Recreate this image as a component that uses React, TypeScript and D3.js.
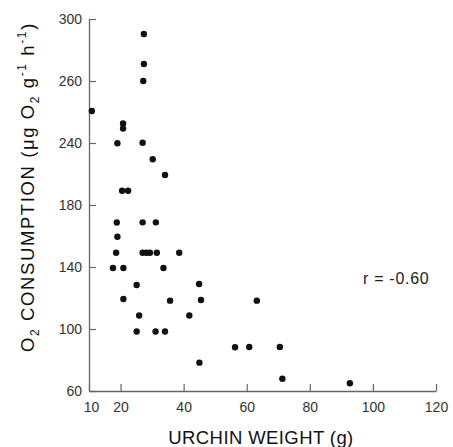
import React, { useEffect, useRef } from "react";
import * as d3 from "d3";

// urchin weight (g)
const weight = [
  27.4, 27.4, 27.2, 10.9, 20.8, 20.8, 19.0, 27.0, 30.2, 34.1, 20.5, 22.4, 18.8,
  27.0, 31.2, 19.0, 18.6, 27.0, 28.2, 29.3, 31.5, 38.6, 17.6, 20.9, 33.6, 25.1,
  44.9, 20.9, 35.7, 45.5, 63.2, 25.9, 41.8, 25.1, 31.1, 34.1, 56.3, 60.8, 70.5,
  45.0, 71.3, 92.7,
];
// O2 consumption (ug O2 g-1 h-1)
const consumption = [
  290.3, 271.0, 260.0, 240.6, 232.6, 229.4, 219.8, 220.2, 209.5, 199.4, 189.2,
  189.2, 168.7, 168.8, 168.8, 159.5, 149.2, 149.2, 149.2, 149.2, 149.2, 149.2,
  139.4, 139.4, 139.4, 128.4, 129.0, 119.4, 118.3, 118.7, 118.3, 108.7, 108.7,
  98.4, 98.4, 98.4, 88.2, 88.4, 88.4, 78.3, 67.9, 65.0,
];
const xTicks = [10, 20, 40, 60, 80, 100, 120];
const yTicks = [300, 260, 220, 180, 140, 100, 60];
// labels as printed in the figure
const yTickLabels = ["300", "260", "240", "180", "140", "100", "60"];
const rLabel = "r = -0.60";

const App = () => {
  const ref = useRef<SVGSVGElement>(null);

  useEffect(() => {
    const svg = d3.select(ref.current);
    svg.selectAll("*").remove();

    const left = 89,
      right = 436,
      top = 19,
      bottom = 391;

    const x = d3.scaleLinear().domain([10, 120]).range([left, right]);
    const y = d3.scaleLinear().domain([60, 300]).range([bottom, top]);

    const font = "'Liberation Sans', Arial, sans-serif";
    const axisColor = "#666";

    // Y axis
    const yAxis = svg
      .append("g")
      .attr("transform", `translate(${left},0)`)
      .call(
        d3
          .axisLeft(y)
          .tickValues(yTicks)
          .tickFormat((d, i) => yTickLabels[i])
          .tickSizeInner(-7)
          .tickSizeOuter(0)
          .tickPadding(7)
      );
    yAxis.select(".domain").attr("stroke", axisColor).attr("stroke-width", 1.3);
    yAxis.selectAll(".tick line").attr("stroke", axisColor).attr("stroke-width", 1.2);
    yAxis
      .selectAll(".tick text")
      .attr("font-family", font)
      .attr("font-size", 14)
      .attr("fill", "#333")
      .attr("x", -7);

    // X axis
    const xAxis = svg
      .append("g")
      .attr("transform", `translate(0,${bottom})`)
      .call(
        d3
          .axisBottom(x)
          .tickValues(xTicks)
          .tickFormat((d) => String(d))
          .tickSizeInner(-7)
          .tickSizeOuter(0)
          .tickPadding(0)
      );
    xAxis.select(".domain").attr("stroke", axisColor).attr("stroke-width", 1.3);
    xAxis.selectAll(".tick line").attr("stroke", axisColor).attr("stroke-width", 1.2);
    xAxis
      .selectAll(".tick text")
      .attr("font-family", font)
      .attr("font-size", 14)
      .attr("fill", "#333")
      .attr("y", 11)
      .attr("x", (d) => (d === 10 ? 2 : 0));

    // points
    svg
      .append("g")
      .selectAll("circle")
      .data(weight)
      .join("circle")
      .attr("cx", (d) => x(d))
      .attr("cy", (d, i) => y(consumption[i]))
      .attr("r", 3.2)
      .attr("fill", "#111");

    // correlation label
    svg
      .append("text")
      .attr("x", 363)
      .attr("y", 284)
      .attr("font-family", font)
      .attr("font-size", 16)
      .attr("letter-spacing", 0.7)
      .attr("fill", "#222")
      .text(rLabel);

    // x title
    svg
      .append("text")
      .attr("x", 261)
      .attr("y", 444)
      .attr("text-anchor", "middle")
      .attr("font-family", font)
      .attr("font-size", 18.5)
      .attr("letter-spacing", 0.4)
      .attr("fill", "#111")
      .text("URCHIN WEIGHT (g)");

    // y title
    const yt = svg
      .append("text")
      .attr("transform", `translate(34,187) rotate(-90)`)
      .attr("text-anchor", "middle")
      .attr("font-family", font)
      .attr("font-size", 18.5)
      .attr("letter-spacing", 1.6)
      .attr("fill", "#111");
    const parts: [string, number, number][] = [
      ["O", 0, 18.5],
      ["2", 5, 12],
      [" CONSUMPTION (\u03bcg O", -5, 18.5],
      ["2", 5, 12],
      [" g", -5, 18.5],
      ["-1", -8, 12],
      [" h", 8, 18.5],
      ["-1", -8, 12],
      [")", 8, 18.5],
    ];
    parts.forEach(([t, dy, fs]) => {
      yt.append("tspan").attr("dy", dy).attr("font-size", fs).text(t);
    });
  }, []);

  return (
    <svg
      ref={ref}
      width={453}
      height={447}
      style={{ position: "absolute", left: 0, top: 0, background: "#fff" }}
    />
  );
};

export default App;
